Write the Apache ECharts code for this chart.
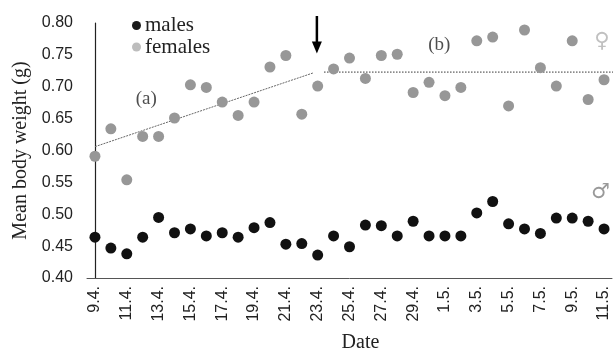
<!DOCTYPE html>
<html><head><meta charset="utf-8">
<script src="https://cdn.jsdelivr.net/npm/echarts@6/dist/echarts.min.js"></script>
<style>html,body{margin:0;padding:0;background:#fff}#c{width:616px;height:358px}</style>
</head><body><div id="c"></div>
<script>
const dates = ['9.4.','10.4.','11.4.','12.4.','13.4.','14.4.','15.4.','16.4.','17.4.','18.4.','19.4.','20.4.','21.4.','22.4.','23.4.','24.4.','25.4.','26.4.','27.4.','28.4.','29.4.','30.4.','1.5.','2.5.','3.5.','4.5.','5.5.','6.5.','7.5.','8.5.','9.5.','10.5.','11.5.'];
const males = [0.464,0.447,0.438,0.464,0.495,0.471,0.477,0.466,0.471,0.464,0.479,0.487,0.453,0.454,0.436,0.466,0.449,0.483,0.482,0.466,0.489,0.466,0.466,0.466,0.502,0.520,0.485,0.477,0.470,0.494,0.494,0.489,0.477];
const females = [0.591,0.634,0.554,0.622,0.622,0.651,0.703,0.699,0.676,0.655,0.676,0.731,0.749,0.657,0.701,0.728,0.745,0.713,0.749,0.751,0.691,0.707,0.686,0.699,0.772,0.778,0.670,0.789,0.730,0.701,0.772,0.680,0.711];
const yTicks = {min:0.40, max:0.80, step:0.05};
// trend lines: [x index, value]
const trendA = [[0,0.606],[13.75,0.722]];
const trendB = [[14.4,0.723],[32.7,0.723]];
const arrowLine = [[13.95,0.811],[13.95,0.752]];
const annotations = [
  {text:'(a)', x:3.22, y:0.680},
  {text:'(b)', x:21.64, y:0.766},
  {text:'♀', x:31.86, y:0.771},
  {text:'♂', x:31.77, y:0.534}
];
const annoStyle = {
  '(a)': {fontSize:19, color:'#222', font:'"Liberation Serif", serif'},
  '(b)': {fontSize:19, color:'#222', font:'"Liberation Serif", serif'},
  '♀': {fontSize:21, color:'#b0b0b0', font:'"DejaVu Sans", sans-serif'},
  '♂': {fontSize:21, color:'#808080', font:'"DejaVu Sans", sans-serif'}
};

const chart = echarts.init(document.getElementById('c'), null, {renderer:'canvas'});
const serif = '"Liberation Serif", "DejaVu Serif", serif';
const sans = '"Liberation Sans", Arial, sans-serif';
chart.setOption({
  animation:false,
  grid:{left:87, right:4, top:23, bottom:72},
  legend:{
    orient:'vertical', left:127, top:10, itemGap:0.5,
    icon:'circle', itemWidth:9, itemHeight:9,
    textStyle:{fontFamily:serif, fontSize:21, color:'#222', padding:[0,0,0,-1]},
    data:[{name:'males', itemStyle:{color:'#1a1a1a'}},{name:'females', itemStyle:{color:'#bdbdbd'}}]
  },
  xAxis:[{
    type:'category', data:dates, boundaryGap:true,
    name:'Date', nameLocation:'middle', nameGap:55,
    nameTextStyle:{fontFamily:serif, fontSize:20, color:'#222', padding:[0,0,0,22]},
    axisLine:{lineStyle:{color:'#555', width:1}},
    axisTick:{interval:1, length:5, lineStyle:{color:'#c8c8c8'}},
    axisLabel:{interval:1, rotate:90, fontFamily:sans, fontSize:16, color:'#222', margin:8},
    splitLine:{show:false}
  },{
    type:'value', min:-0.5, max:32.5, show:false
  }],
  yAxis:{
    type:'value', min:yTicks.min, max:yTicks.max, interval:yTicks.step,
    name:'Mean body weight (g)', nameLocation:'middle', nameGap:56,
    nameTextStyle:{fontFamily:serif, fontSize:20, color:'#222'},
    axisLine:{show:true, lineStyle:{color:'#222', width:1.2}},
    axisTick:{show:false},
    axisLabel:{fontFamily:sans, fontSize:16, color:'#222', margin:14, formatter:v=>v.toFixed(2)},
    splitLine:{show:false}
  },
  series:[
    {name:'trendA', type:'line', xAxisIndex:1, data:trendA, symbol:'none', clip:false,
     lineStyle:{color:'#666', width:1, type:[2,1]}, silent:true, z:1},
    {name:'trendB', type:'line', xAxisIndex:1, data:trendB, symbol:'none', clip:false,
     lineStyle:{color:'#333', width:1, type:[1.5,1.5]}, silent:true, z:1},
    {name:'males', type:'scatter', data:males, symbol:'circle', symbolSize:11,
     itemStyle:{color:'#111', opacity:1}, z:3},
    {name:'females', type:'scatter', data:females, symbol:'circle', symbolSize:11,
     itemStyle:{color:'#979797', opacity:1}, z:3},
    {name:'annot', type:'scatter', xAxisIndex:1, clip:false, silent:true, symbolSize:0,
     data:annotations.map(a=>({value:[a.x,a.y], name:a.text,
       label:{show:true, position:'inside', formatter:a.text, fontFamily:annoStyle[a.text].font,
              fontSize:annoStyle[a.text].fontSize, color:annoStyle[a.text].color}}))}
  ]
});
// arrow placed through the chart's own scales
const p0 = chart.convertToPixel({xAxisIndex:1, yAxisIndex:0}, arrowLine[0]);
const p1 = chart.convertToPixel({xAxisIndex:1, yAxisIndex:0}, arrowLine[1]);
const head = 12, hw = 5;
chart.setOption({
  graphic:[
    {type:'line', shape:{x1:p0[0], y1:p0[1], x2:p1[0], y2:p1[1]-head+1},
     style:{stroke:'#000', lineWidth:2.5}, silent:true, z:10},
    {type:'polygon', shape:{points:[[p1[0]-hw, p1[1]-head],[p1[0]+hw, p1[1]-head],[p1[0], p1[1]]]},
     style:{fill:'#000'}, silent:true, z:10}
  ]
});
</script></body></html>
